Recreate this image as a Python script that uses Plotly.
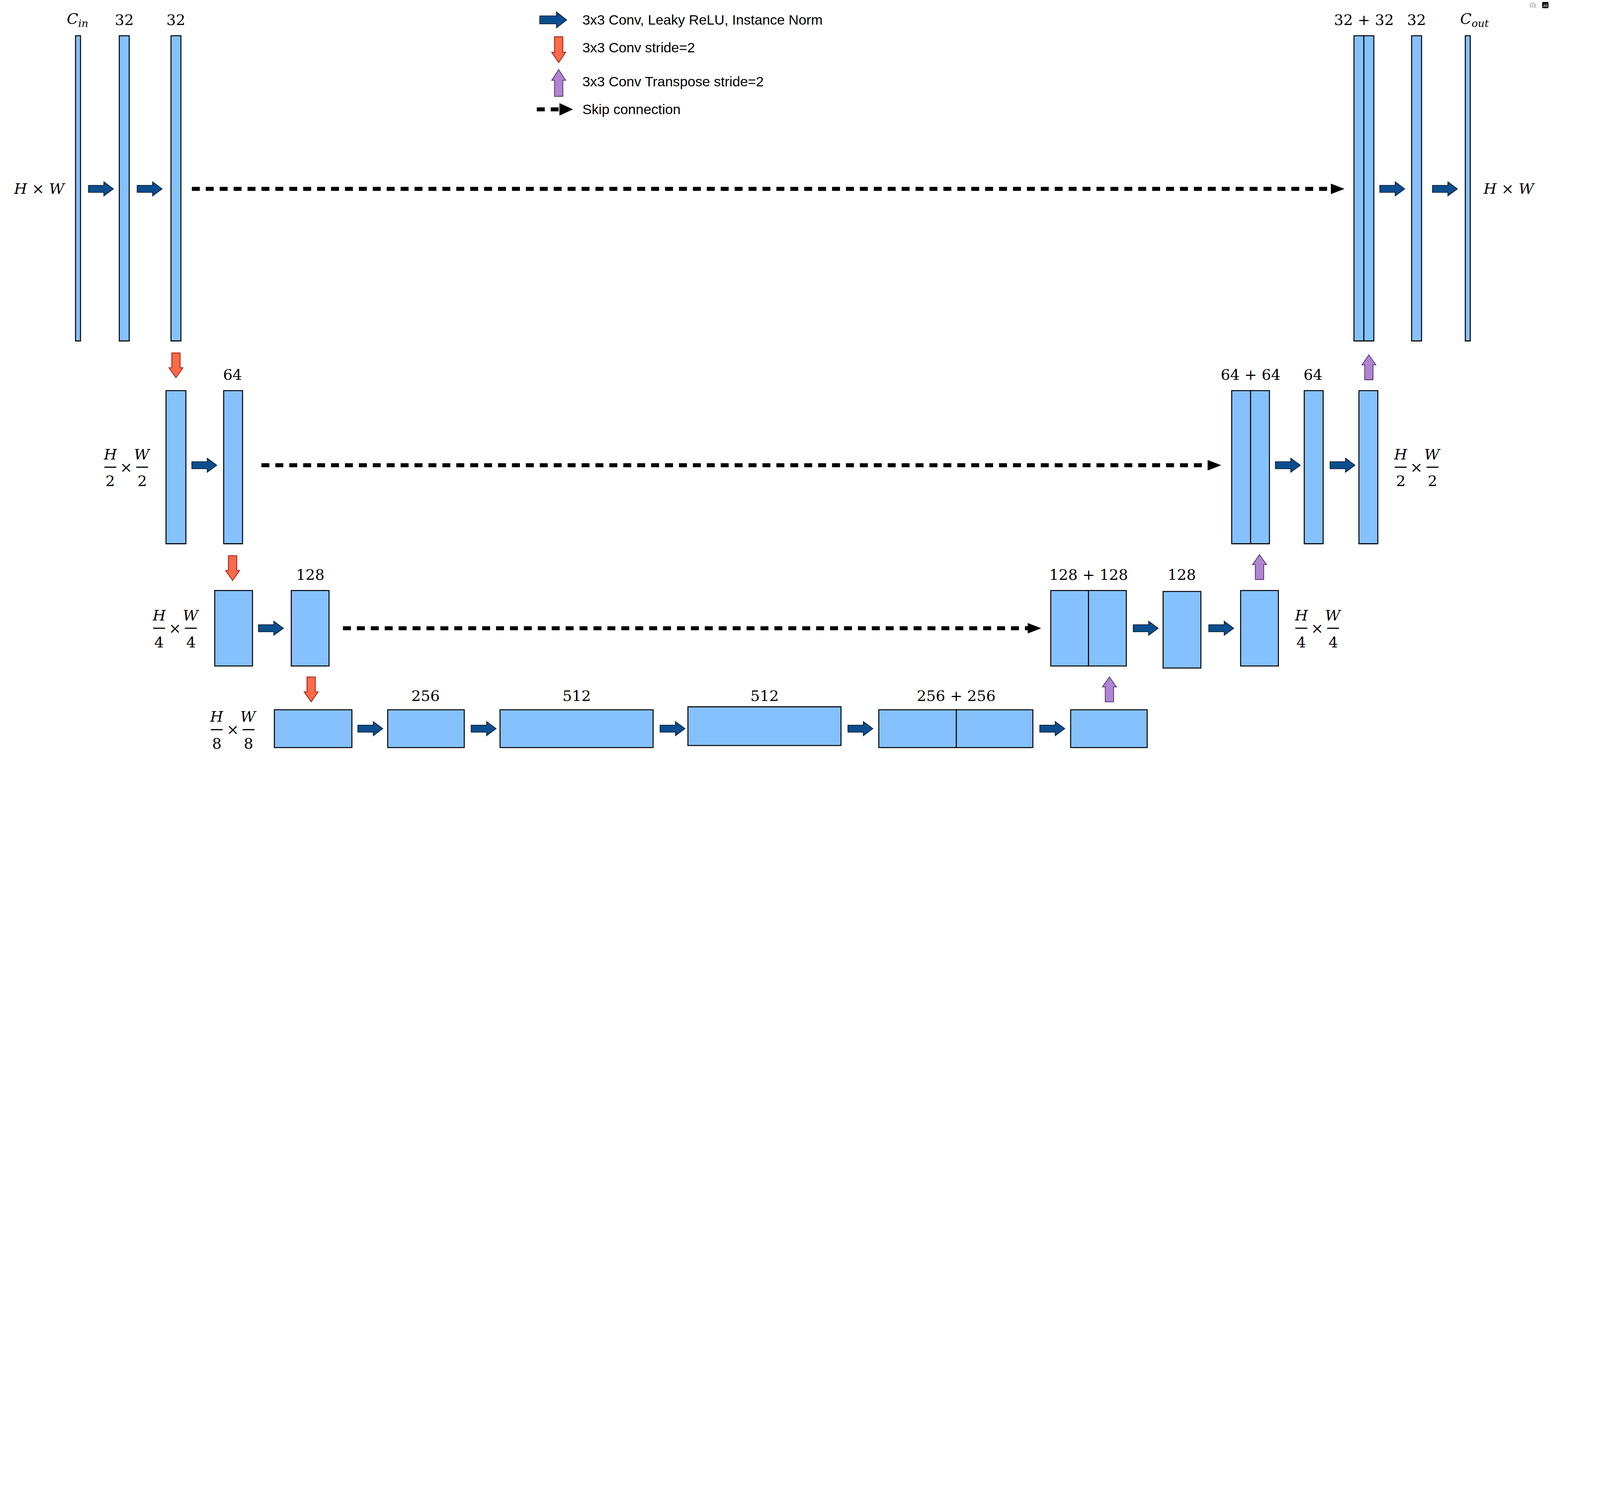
import plotly.graph_objects as go

W, H = 3970, 1931
DW, DH = 1560, 759
S = W / DW

# ---- data: blocks (x0, x1, y0, y1) in diagram units and channel labels ----
blocks = [
    (76, 81, 36, 343), (120, 130, 36, 343), (172, 182, 36, 343),
    (1362, 1372, 36, 343), (1372, 1382, 36, 343), (1420, 1430, 36, 343), (1474, 1479, 36, 343),
    (167, 187, 393, 547), (225, 244, 393, 547),
    (1239, 1258, 393, 547), (1258, 1277, 393, 547), (1312, 1331, 393, 547), (1367, 1386, 393, 547),
    (216, 254, 594, 670), (293, 331, 594, 670),
    (1057, 1095, 594, 670), (1095, 1133, 594, 670), (1170, 1208, 595, 672), (1248, 1286, 594, 670),
    (276, 354, 714, 752), (390, 467, 714, 752), (503, 657, 714, 752), (692, 846, 711, 750),
    (884, 962, 714, 752), (962, 1039, 714, 752), (1077, 1154, 714, 752),
]
channel_labels = ["<i>C</i><sub><i>in</i></sub>", "32", "32", "32 + 32", "32", "<i>C</i><sub><i>out</i></sub>",
                  "64", "64 + 64", "64", "128", "128 + 128", "128",
                  "256", "512", "512", "256 + 256"]
channel_label_pos = [(78, 20), (125, 20), (177, 20), (1372, 20), (1425, 20), (1483, 20),
                     (234, 377), (1258, 377), (1321, 377), (312, 578), (1095, 578), (1189, 578),
                     (428, 700), (580, 700), (769, 700), (962, 700)]
conv_arrows = [(89, 190), (138, 190), (1388, 190), (1441, 190), (193, 468), (1283, 468), (1338, 468),
               (260, 632), (1140, 632), (1216, 632), (360, 733), (474, 733), (664, 733), (853, 733), (1046, 733)]
down_arrows = [(177, 355), (234, 559), (313, 681)]
up_arrows = [(1377, 382), (1267, 583), (1116, 706)]
skips = [(193, 1352, 190), (263, 1228, 468), (345, 1047, 632)]
legend_items = ["3x3 Conv, Leaky ReLU, Instance Norm", "3x3 Conv stride=2",
                "3x3 Conv Transpose stride=2", "Skip connection"]

BLUE_FILL = "#85c1fc"
shapes = []
ann = []

def rect(x0, x1, y0, y1):
    shapes.append(dict(type="rect", x0=x0, x1=x1, y0=y0, y1=y1, fillcolor=BLUE_FILL,
                       line=dict(color="black", width=1.0 * S), layer="above"))

def conv_arrow(x, y, w=25, h=14):
    bw = w * 0.62
    p = (f"M{x},{y-h*0.25} L{x+bw},{y-h*0.25} L{x+bw},{y-h/2} L{x+w},{y} "
         f"L{x+bw},{y+h/2} L{x+bw},{y+h*0.25} L{x},{y+h*0.25} Z")
    shapes.append(dict(type="path", path=p, fillcolor="#0b4e8e", line=dict(color="#0a2540", width=0.8 * S)))

def v_arrow(x, ytail, yhead, fill, edge, w=14):
    d = 1 if yhead > ytail else -1
    L = abs(yhead - ytail)
    hl = L * 0.4
    bw = w * 0.3
    yb = yhead - d * hl
    p = (f"M{x-bw},{ytail} L{x+bw},{ytail} L{x+bw},{yb} L{x+w/2},{yb} L{x},{yhead} "
         f"L{x-w/2},{yb} L{x-bw},{yb} Z")
    shapes.append(dict(type="path", path=p, fillcolor=fill, line=dict(color=edge, width=0.8 * S)))

def skip(x0, x1, y):
    shapes.append(dict(type="line", x0=x0, x1=x1 - 12, y0=y, y1=y,
                       line=dict(color="black", width=4 * S, dash=f"{8*S}px,{6*S}px")))
    shapes.append(dict(type="path", path=f"M{x1-13},{y-5} L{x1},{y} L{x1-13},{y+5} Z",
                       fillcolor="black", line=dict(color="black", width=1)))

for b in blocks:
    rect(*b)
for a in conv_arrows:
    conv_arrow(*a)
for x, y in down_arrows:
    v_arrow(x, y, y + 25, "#fb6a4a", "#a51d0f")
for x, y in up_arrows:
    v_arrow(x, y, y - 25, "#b085d0", "#5a3580")
for s in skips:
    skip(*s)

FS = 15 * S
for t, (x, y) in zip(channel_labels, channel_label_pos):
    ann.append(dict(x=x, y=y, text=t, showarrow=False, xanchor="center", yanchor="middle",
                    font=dict(family="DejaVu Serif", size=FS, color="black")))

def frac_label(x, y, den):
    for dx, letter in [(-16, "H"), (16, "W")]:
        ann.append(dict(x=x + dx, y=y - 13, text=f"<i>{letter}</i>", showarrow=False,
                        font=dict(family="DejaVu Serif", size=FS, color="black")))
        ann.append(dict(x=x + dx, y=y + 14, text=den, showarrow=False,
                        font=dict(family="DejaVu Serif", size=FS, color="black")))
        shapes.append(dict(type="line", x0=x + dx - 6, x1=x + dx + 6, y0=y, y1=y,
                           line=dict(color="black", width=1.2 * S)))
    ann.append(dict(x=x, y=y, text="×", showarrow=False,
                    font=dict(family="DejaVu Serif", size=FS, color="black")))

ann.append(dict(x=40, y=190, text="<i>H</i> × <i>W</i>", showarrow=False,
                font=dict(family="DejaVu Serif", size=FS, color="black")))
ann.append(dict(x=1518, y=190, text="<i>H</i> × <i>W</i>", showarrow=False,
                font=dict(family="DejaVu Serif", size=FS, color="black")))
frac_label(127, 470, "2")
frac_label(1425, 470, "2")
frac_label(176, 632, "4")
frac_label(1325, 632, "4")
frac_label(234, 734, "8")

# legend
conv_arrow(543, 20, 27, 16)
v_arrow(562, 37, 63, "#fb6a4a", "#a51d0f")
v_arrow(562, 97, 70, "#b085d0", "#5a3580")
shapes.append(dict(type="line", x0=540, x1=563, y0=110, y1=110,
                   line=dict(color="black", width=4 * S, dash=f"{8*S}px,{6*S}px")))
shapes.append(dict(type="path", path="M563,104 L576,110 L563,116 Z", fillcolor="black",
                   line=dict(color="black", width=1)))
for t, y in zip(legend_items, [20, 48, 82, 110]):
    ann.append(dict(x=585, y=y, text=t, showarrow=False, xanchor="left",
                    font=dict(family="Liberation Sans", size=14 * S, color="black")))

fig = go.Figure()
fig.update_layout(width=W, height=H, margin=dict(l=0, r=0, t=0, b=0),
                  plot_bgcolor="white", paper_bgcolor="white", showlegend=False,
                  xaxis=dict(range=[0, DW], visible=False, fixedrange=True),
                  yaxis=dict(range=[DH, 0], visible=False, fixedrange=True),
                  shapes=shapes, annotations=ann)
fig.write_html("out.html")
with open("out.html", "r", encoding="utf-8") as f:
    html = f.read()
html = html.replace("<body>", '<body style="margin:0;overflow:hidden">', 1)
with open("out.html", "w", encoding="utf-8") as f:
    f.write(html)
